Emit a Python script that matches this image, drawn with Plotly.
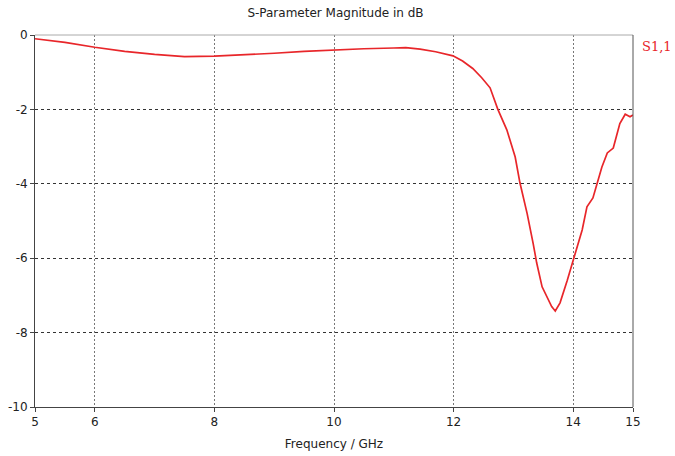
import plotly.graph_objects as go

freq_ghz = [5.0, 5.5, 6.0, 6.5, 7.0, 7.5, 8.0, 8.5, 9.0, 9.5, 10.0, 10.5, 11.0, 11.2, 11.44, 11.7,
            11.99, 12.15, 12.32, 12.47, 12.61, 12.74, 12.89, 13.03, 13.11, 13.23, 13.33, 13.39,
            13.48, 13.58, 13.64, 13.70, 13.78, 13.90, 14.01, 14.15, 14.23, 14.33, 14.48, 14.57,
            14.67, 14.78, 14.87, 14.95, 15.0]
s11_db = [-0.10, -0.20, -0.33, -0.44, -0.52, -0.58, -0.57, -0.54, -0.49, -0.44, -0.40, -0.37,
          -0.35, -0.34, -0.38, -0.45, -0.56, -0.70, -0.90, -1.15, -1.42, -2.00, -2.55, -3.28,
          -3.98, -4.80, -5.60, -6.13, -6.77, -7.12, -7.30, -7.42, -7.20, -6.60, -6.00, -5.24,
          -4.62, -4.38, -3.55, -3.17, -3.04, -2.38, -2.13, -2.20, -2.15]

x_ticks = [5, 6, 8, 10, 12, 14, 15]
y_ticks = [0, -2, -4, -6, -8, -10]

font = "DejaVu Sans"
fig = go.Figure()
fig.add_trace(go.Scatter(x=freq_ghz, y=s11_db, mode="lines",
                         line=dict(color="#e8262a", width=1.7), showlegend=False))

axis_common = dict(showline=True, linecolor="#444", linewidth=1, mirror=False,
                   showgrid=True, gridwidth=1, automargin=False,
                   zeroline=False, ticks="outside", ticklen=4, tickcolor="#444",
                   tickfont=dict(family=font, size=12, color="#222"))

fig.update_xaxes(range=[5, 15], tickvals=x_ticks, ticktext=[str(v) for v in x_ticks],
                 gridcolor="#777", griddash="2px,2px",
                 title=dict(text="Frequency / GHz", font=dict(family=font, size=12, color="#222"), standoff=11),
                 **axis_common)
fig.update_yaxes(range=[-10, 0], tickvals=y_ticks, ticktext=[str(v) for v in y_ticks],
                 gridcolor="#333", griddash="3px,3px",
                 **axis_common)

fig.update_layout(
    width=675, height=456,
    margin=dict(l=35, r=42, t=35, b=49, autoexpand=False),
    paper_bgcolor="white", plot_bgcolor="white",
    title=dict(text="S-Parameter Magnitude in dB", x=0.497, xanchor="center", y=0.972, yanchor="middle",
               automargin=False, font=dict(family=font, size=12, color="#222")),
    annotations=[dict(text="S1,1", xref="paper", yref="paper", x=1.012, y=0.97, xanchor="left",
                      yanchor="middle", showarrow=False,
                      font=dict(family="DejaVu Serif", size=13, color="#e8262a"))],
    shapes=[
        dict(type="line", xref="paper", yref="paper", x0=0, x1=1, y0=1, y1=1,
             line=dict(color="#aaa", width=1)),
        dict(type="line", xref="paper", yref="paper", x0=1, x1=1, y0=0, y1=1,
             line=dict(color="#555", width=1)),
    ],
)

fig.write_html("out.html", config={"displayModeBar": False},
               post_script="document.body.style.margin='0';document.body.style.overflow='hidden';")
